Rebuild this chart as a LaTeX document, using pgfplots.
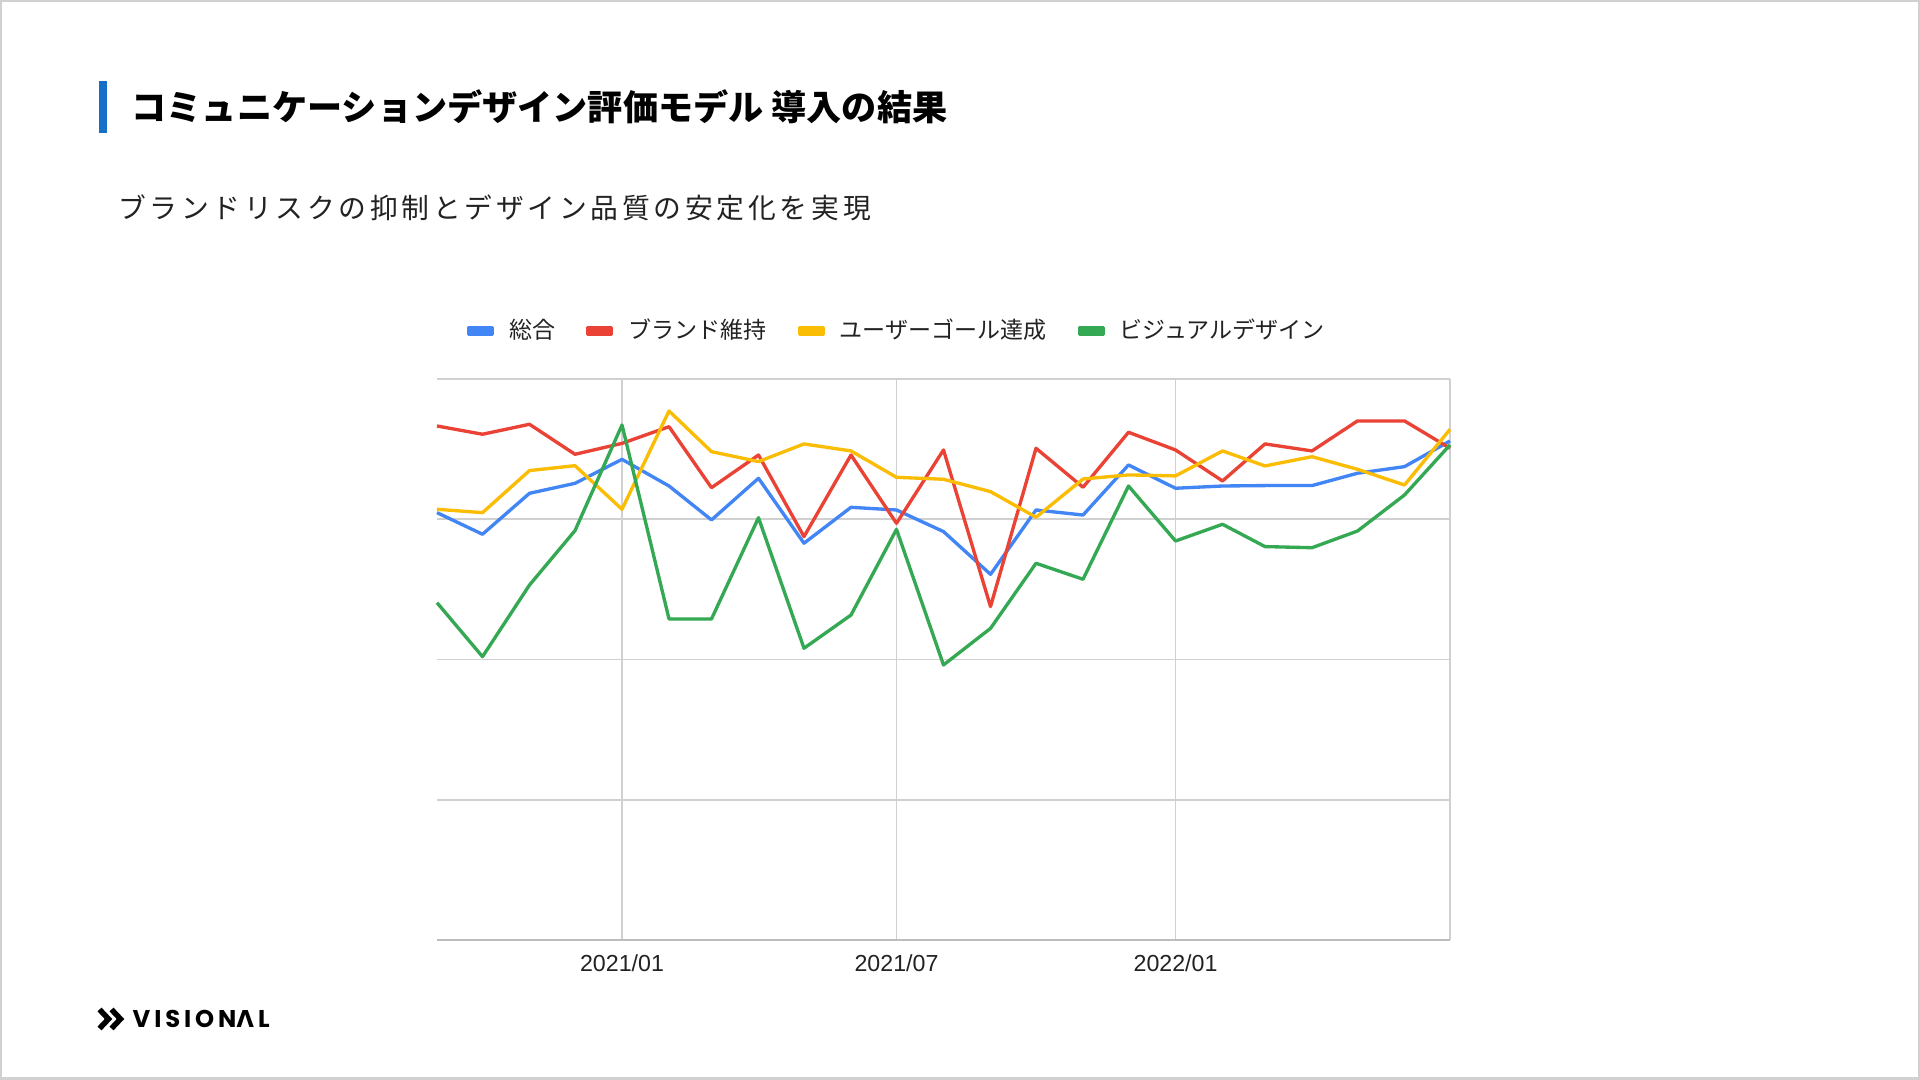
\documentclass[border=0pt]{standalone}
\usepackage{pgfplots}
\pgfplotsset{compat=1.18}
\usepackage{pgfplotstable}
\usepackage{graphicx}
\usepackage{fontspec}
\setmainfont{Liberation Sans}
\newfontfamily\jp{Noto Sans CJK JP}
\newfontfamily\jpsub[LetterSpace=13.5]{Noto Sans CJK JP}
\newfontfamily\logofont[LetterSpace=16]{Poppins}
\definecolor{gblue}{HTML}{4285F4}
\definecolor{gred}{HTML}{EA4335}
\definecolor{gyellow}{HTML}{FBBC04}
\definecolor{ggreen}{HTML}{34A853}
\definecolor{gridgray}{HTML}{D0D0D0}
\definecolor{axisgray}{HTML}{BDBDBD}
\definecolor{barblue}{HTML}{1770C8}
\definecolor{txt}{HTML}{222222}

\pgfplotstableread{
day blue red yellow green
0   3.047 3.665 3.071 2.405
30  2.893 3.606 3.047 2.020
61  3.185 3.677 3.347 2.531
91  3.256 3.463 3.382 2.919
122 3.427 3.541 3.071 3.672
153 3.237 3.660 3.772 2.289
181 2.995 3.225 3.482 2.289
212 3.292 3.458 3.411 3.011
242 2.829 2.876 3.537 2.080
273 3.085 3.458 3.487 2.317
303 3.066 2.971 3.299 2.928
334 2.912 3.494 3.285 1.961
365 2.607 2.377 3.197 2.222
395 3.066 3.506 3.014 2.686
426 3.030 3.228 3.287 2.572
456 3.387 3.620 3.316 3.237
487 3.221 3.494 3.309 2.845
518 3.237 3.273 3.487 2.964
546 3.240 3.537 3.380 2.805
577 3.240 3.487 3.446 2.797
607 3.328 3.701 3.356 2.916
638 3.375 3.701 3.244 3.173
668 3.558 3.506 3.641 3.530
}\datatable

\begin{document}
\begin{tikzpicture}
\path[use as bounding box, fill=white] (0,0) rectangle (19.2,10.8);
\draw[black!18, line width=0.25mm] (0.0125,0.0125) rectangle (19.1875,10.7875);
% title
\fill[barblue] (0.99,9.47) rectangle (1.07,9.99);
\node[anchor=west, inner sep=0pt, text=black] at (1.31,9.73) {\jp\bfseries\fontsize{10}{12}\selectfont コミュニケーションデザイン評価モデル 導入の結果};
\node[anchor=west, inner sep=0pt, text=txt] at (1.175,8.72) {\jpsub\fontsize{7.9}{10}\selectfont ブランドリスクの抑制とデザイン品質の安定化を実現};
% logo
\draw[black, line width=0.55mm, line join=miter] (0.995,0.705)--(1.085,0.61)--(0.995,0.515);
\draw[black, line width=0.55mm, line join=miter] (1.115,0.705)--(1.205,0.61)--(1.115,0.515);
\node[anchor=west, inner sep=0pt] at (1.32,0.61) {\logofont\bfseries\fontsize{6.9}{8}\selectfont VISION\rotatebox[origin=c]{180}{V}\kern0.04cm L};

\begin{axis}[
  at={(4.37cm,1.40cm)}, anchor=south west,
  scale only axis, width=10.13cm, height=5.61cm,
  xmin=0, xmax=668, ymin=0, ymax=4,
  clip=false,
  xtick={122,303,487,668},
  xticklabels={2021/01,2021/07,2022/01,{}},
  ytick={1,2,3,4},
  yticklabels={},
  major tick length=0pt,
  xmajorgrids, ymajorgrids,
  major grid style={draw=gridgray, line width=0.45pt},
  axis x line*=bottom,
  axis y line*=left,
  x axis line style={draw=axisgray, line width=0.6pt},
  y axis line style={draw=none},
  xticklabel style={font=\fontsize{6.6}{8}\selectfont, text=txt, anchor=north, inner sep=0pt, yshift=-0.14cm},
  legend columns=4,
  legend style={at={(0.0286,1.085)}, anchor=west, draw=none, fill=none, inner sep=0pt,
     font=\jp\fontsize{6.55}{8}\selectfont, text=txt,
     nodes={inner sep=0pt},
     /tikz/every odd column/.append style={column sep=0.15cm},
     /tikz/every even column/.append style={column sep=0.31cm}},
  legend image code/.code={\fill[#1] (0cm,-0.035cm) rectangle (0.24cm,0.035cm);},
  every axis plot/.append style={line width=0.95pt, line join=round},
]
\addplot[color=gblue] table[x=day, y=blue] {\datatable};
\addlegendentry{総合}
\addplot[color=gred] table[x=day, y=red] {\datatable};
\addlegendentry{ブランド維持}
\addplot[color=gyellow] table[x=day, y=yellow] {\datatable};
\addlegendentry{ユーザーゴール達成}
\addplot[color=ggreen] table[x=day, y=green] {\datatable};
\addlegendentry{ビジュアルデザイン}
\end{axis}
\end{tikzpicture}
\end{document}
